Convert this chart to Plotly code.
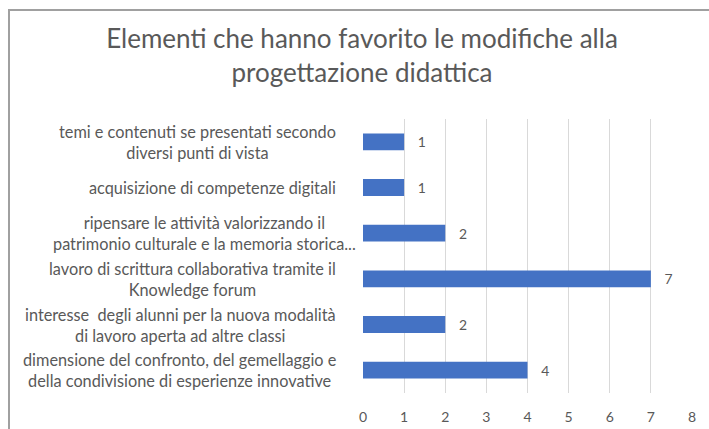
import plotly.graph_objects as go

# Data: Excel-style order (first item drawn at the bottom)
categories = [
    "dimensione del confronto, del gemellaggio e<br>della condivisione di esperienze innovative",
    "interesse  degli alunni per la nuova modalità<br>di lavoro aperta ad altre classi",
    "lavoro di scrittura collaborativa tramite il<br>Knowledge forum",
    "ripensare le attività valorizzando il<br>patrimonio culturale e la memoria storica...",
    "acquisizione di competenze digitali",
    "temi e contenuti se presentati secondo<br>diversi punti di vista",
]
values = [4, 2, 7, 2, 1, 1]
x_ticks = [0, 1, 2, 3, 4, 5, 6, 7, 8]

TEXT_GRAY = "#595959"
FONT = "Lato, 'Open Sans', sans-serif"

W, H = 709, 429
L, R, T, B = 363, 17, 119, 36
pw, ph = W - L - R, H - T - B

fig = go.Figure()
fig.add_trace(go.Bar(
    x=values,
    y=categories,
    orientation="h",
    marker=dict(color="#4472C4", line=dict(width=0)),
    text=values,
    texttemplate="   %{x}",
    textposition="outside",
    textfont=dict(family=FONT, size=14, color=TEXT_GRAY),
    cliponaxis=False,
    hoverinfo="skip",
))

# Category labels: right-aligned blocks with centred lines
annotations = []
for cat in categories:
    shift = -5 if cat.startswith("ripensare") else -25
    annotations.append(dict(
        x=0, xref="paper", y=cat, yref="y",
        text=cat, showarrow=False,
        xanchor="right", yanchor="middle", align="center",
        xshift=shift,
        font=dict(family=FONT, size=16.3, color=TEXT_GRAY),
    ))

# Chart border (top and left edges visible)
def px_x(p):
    return (p - L) / pw

def px_y(p):
    return (H - B - p) / ph

shapes = [dict(
    type="rect", xref="paper", yref="paper",
    x0=px_x(9), x1=px_x(730), y0=px_y(450), y1=px_y(10),
    line=dict(color="#a0a0a0", width=2), fillcolor="rgba(0,0,0,0)", layer="above",
)]

fig.update_layout(
    width=W, height=H,
    margin=dict(l=L, r=R, t=T, b=B, pad=0, autoexpand=False),
    paper_bgcolor="white", plot_bgcolor="white",
    showlegend=False,
    bargap=0.63,
    title=dict(
        text="Elementi che hanno favorito le modifiche alla<br>progettazione didattica",
        x=362 / W, xanchor="center",
        y=1 - 48 / H, yanchor="middle",
        font=dict(family=FONT, size=26, color=TEXT_GRAY),
    ),
    xaxis=dict(
        range=[0, 8], tickvals=x_ticks, ticktext=[str(t) for t in x_ticks],
        showgrid=True, gridcolor="#d9d9d9", gridwidth=1,
        zeroline=False, showline=False, automargin=False,
        ticks="outside", ticklen=11, tickcolor="rgba(0,0,0,0)",
        tickfont=dict(family=FONT, size=14, color=TEXT_GRAY),
        fixedrange=True,
    ),
    yaxis=dict(
        categoryorder="array", categoryarray=categories,
        showticklabels=False, showgrid=False, zeroline=False, showline=False,
        ticks="", fixedrange=True, automargin=False,
    ),
    annotations=annotations,
    shapes=shapes,
)

fig.write_html("out.html")
